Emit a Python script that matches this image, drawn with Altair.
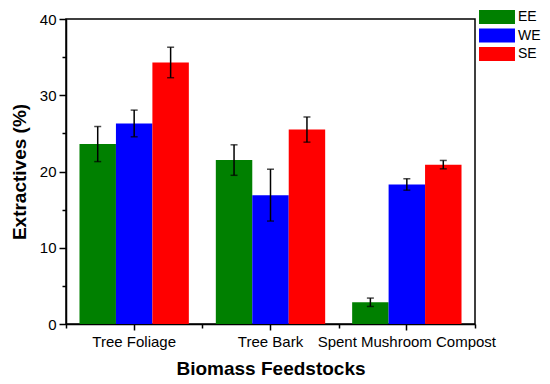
import altair as alt
import pandas as pd

categories = ["Tree Foliage", "Tree Bark", "Spent Mushroom Compost"]
methods = ["EE", "WE", "SE"]
colors = ["#008000", "#0000FF", "#FF0000"]

ee_vals = [23.6, 21.5, 2.85]
ee_err = [2.3, 2.0, 0.55]
we_vals = [26.3, 16.9, 18.3]
we_err = [1.75, 3.4, 0.75]
se_vals = [34.3, 25.5, 20.9]
se_err = [2.0, 1.65, 0.55]

rows = []
for m, vals, errs in [("EE", ee_vals, ee_err), ("WE", we_vals, we_err), ("SE", se_vals, se_err)]:
    for c, v, e in zip(categories, vals, errs):
        rows.append({"cat": c, "method": m, "value": v, "lo": v - e, "hi": v + e})
df = pd.DataFrame(rows)

FONT = "Liberation Sans"

x_scale = alt.Scale(domain=categories, paddingInner=0, paddingOuter=0)
xo_scale = alt.Scale(domain=methods, paddingInner=0, paddingOuter=0.37)
y_scale = alt.Scale(domain=[0, 40], nice=False)

x_main = alt.X("cat:N", scale=x_scale, sort=categories,
               axis=alt.Axis(title="Biomass Feedstocks", labelAngle=0, tickSize=6,
                             labelPadding=4, titlePadding=10))
y_main = alt.Y("value:Q", scale=y_scale,
               axis=alt.Axis(title="Extractives (%)", values=[0, 10, 20, 30, 40],
                             tickSize=7, labelPadding=3, titlePadding=10))

base = alt.Chart(df)

bars = base.mark_bar().encode(
    x=x_main,
    xOffset=alt.XOffset("method:N", scale=xo_scale, sort=methods),
    y=y_main,
    color=alt.Color("method:N", sort=methods,
                    scale=alt.Scale(domain=methods, range=colors),
                    legend=alt.Legend(title=None, orient="none", legendX=424, legendY=-9,
                                      symbolType="M-2.57,-1H2.57V1H-2.57Z", symbolSize=196,
                                      symbolStrokeWidth=0, symbolOpacity=1,
                                      labelFontSize=14, labelFont=FONT, labelColor="black",
                                      rowPadding=4.5, labelOffset=14)),
)

x_minor = alt.X("cat:N", scale=x_scale, sort=categories,
                axis=alt.Axis(title=None, labels=False, domain=False, tickBand="extent",
                              tickSize=4, orient="bottom"))
y_minor = alt.Y("lo:Q", scale=y_scale,
                axis=alt.Axis(title=None, labels=False, domain=False, values=[5, 15, 25, 35],
                              tickSize=4, orient="left"))

rules = base.mark_rule(color="black", strokeWidth=1.5).encode(
    x=x_minor,
    xOffset=alt.XOffset("method:N", scale=xo_scale, sort=methods),
    y=y_minor,
    y2="hi:Q",
)

caps_hi = base.mark_tick(color="black", thickness=1.5, size=7).encode(
    x=alt.X("cat:N", scale=x_scale, sort=categories, axis=None),
    xOffset=alt.XOffset("method:N", scale=xo_scale, sort=methods),
    y=alt.Y("hi:Q", scale=y_scale, axis=None),
)
caps_lo = base.mark_tick(color="black", thickness=1.5, size=7).encode(
    x=alt.X("cat:N", scale=x_scale, sort=categories, axis=None),
    xOffset=alt.XOffset("method:N", scale=xo_scale, sort=methods),
    y=alt.Y("lo:Q", scale=y_scale, axis=None),
)

chart = alt.layer(bars, rules, caps_hi, caps_lo).resolve_axis(
    x="independent", y="independent"
).properties(
    width=409, height=305,
    background="white",
    autosize=alt.AutoSizeParams(type="none"),
    padding={"left": 58, "top": 11, "right": 67, "bottom": 53},
).configure_view(
    stroke="black", strokeWidth=1.5
).configure_axis(
    domainColor="black", domainWidth=1.5, tickColor="black", tickWidth=1.5,
    labelFont=FONT, labelFontSize=15, labelColor="black",
    titleFont=FONT, titleFontSize=19, titleFontWeight="bold", titleColor="black",
    grid=False,
)

chart.save("out.html", embed_options={"renderer": "svg", "actions": False})
